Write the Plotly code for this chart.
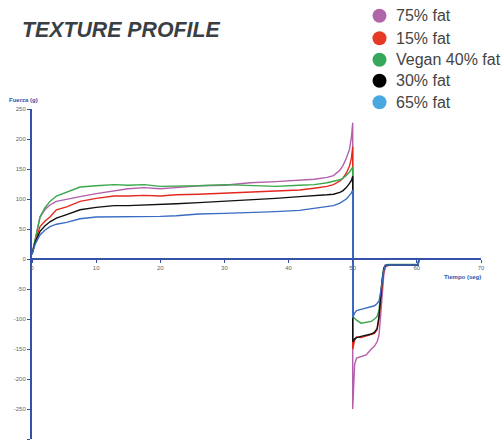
import plotly.graph_objects as go

# ---------------- data ----------------
series_names = ["75% fat", "15% fat", "Vegan 40% fat", "30% fat", "65% fat"]
line_colors = ["#b25fac", "#e4281f", "#38a84a", "#111111", "#3a6cc2"]
legend_colors = ["#b065a8", "#e63a26", "#35a85b", "#000000", "#4aa8e0"]

# compression phase (seconds)
t_press = [0, 0.5, 1.25, 2, 2.8, 3.8, 5.4, 7.5, 10, 12.8, 15, 17.5, 20, 22.5,
           26, 30, 34, 38, 41.7, 44, 46, 47, 48, 48.5, 49, 49.5, 49.8, 50]
f_press_75 = [8, 35, 70, 82, 90, 96, 100, 104, 109, 114, 117, 119, 117, 119,
              122, 123, 127, 129, 131, 133, 136, 139, 148, 156, 168, 183, 203, 227]
f_press_15 = [8, 30, 54, 63, 70, 82, 87, 96, 101, 105, 105, 106, 105, 107,
              108, 110, 111, 113, 115, 118, 121, 124, 130, 135, 143, 155, 168, 187]
f_press_v40 = [8, 35, 70, 85, 96, 105, 112, 120, 122, 124, 123, 124, 121, 121,
               122, 124, 123, 121, 123, 124, 127, 129, 132, 135, 139, 145, 149, 153]
f_press_30 = [8, 28, 46, 55, 62, 68, 74, 82, 86, 89, 89, 90, 90, 92,
              94, 96, 98, 101, 104, 105, 107, 108, 111, 114, 119, 126, 131, 138]
f_press_65 = [8, 25, 40, 48, 54, 58, 61, 67, 70, 70, 70, 70, 71, 72,
              75, 76, 77, 79, 81, 84, 87, 89, 93, 96, 100, 106, 110, 115]

# withdrawal phase (seconds)
t_pull = [50, 50.3, 50.6, 51.3, 52.1, 52.9, 53.4, 53.8, 54.1, 54.35, 54.6,
          54.85, 55.1, 55.5, 56, 57, 58, 59, 60.2, 60.3]
f_pull_75 = [-250, -175, -165, -163, -160, -150, -145, -138, -127, -95, -60,
             -25, -13, -11, -10, -10, -10, -10, -10, -1]
f_pull_15 = [-150, -135, -130, -131, -128, -126, -124, -118, -100, -70, -45,
             -20, -13, -10, -10, -10, -10, -10, -10, -1]
f_pull_v40 = [-96, -99, -102, -107, -106, -104, -100, -96, -85, -55, -32,
              -15, -10, -9, -9, -9, -9, -9, -9, -1]
f_pull_30 = [-138, -133, -131, -129, -127, -125, -122, -116, -95, -60, -35,
             -15, -11, -10, -10, -10, -10, -10, -10, -1]
f_pull_65 = [-98, -90, -86, -84, -82, -80, -78, -74, -70, -55, -33,
             -18, -10, -10, -10, -10, -10, -10, -10, -1]

press = [f_press_75, f_press_15, f_press_v40, f_press_30, f_press_65]
pull = [f_pull_75, f_pull_15, f_pull_v40, f_pull_30, f_pull_65]

x_ticks = [0, 10, 20, 30, 40, 50, 60, 70]
y_ticks = [-300, -250, -200, -150, -100, -50, 0, 50, 100, 150, 200, 250]

AXIS = "#3352a8"
FONT = "Arial, Liberation Sans, sans-serif"

W, H = 504, 442
ML, MR, MT, MB = 32, 23, 109, 3
PW, PH = W - ML - MR, H - MT - MB


def px(x):
    return (x - ML) / PW


def py(y):
    return (H - MB - y) / PH


fig = go.Figure()
for name, col, fp, fq in zip(series_names, line_colors, press, pull):
    fig.add_trace(go.Scatter(
        x=t_press + t_pull, y=fp + fq, mode="lines", name=name,
        line=dict(color=col, width=1.4), showlegend=False, hoverinfo="skip"))

# legend drawn as circles + text in the top-right corner
leg_y = [15.7, 38.3, 59.8, 80.8, 102.3]
shapes, annotations = [], []
for name, col, ly in zip(series_names, legend_colors, leg_y):
    shapes.append(dict(type="circle", xref="paper", yref="paper",
                       x0=px(372.5), x1=px(386.5), y0=py(ly + 7), y1=py(ly - 7),
                       fillcolor=col, line=dict(width=0)))
    annotations.append(dict(text=name, xref="paper", yref="paper",
                            x=px(394), y=py(ly), xanchor="left", yanchor="middle",
                            showarrow=False,
                            font=dict(size=16, color="#444444", family=FONT)))

annotations += [
    dict(text="<b><i>TEXTURE PROFILE</i></b>", xref="paper", yref="paper",
         x=px(20), y=py(30), xanchor="left", yanchor="middle", showarrow=False,
         font=dict(size=21.3, color="#3a3f44", family=FONT)),
    dict(text="<b>Fuerza (g)</b>", xref="paper", yref="paper",
         x=px(7), y=py(100), xanchor="left", yanchor="middle", showarrow=False,
         font=dict(size=6, color=AXIS, family=FONT)),
    dict(text="<b>Tiempo (seg)</b>", xref="paper", yref="paper",
         x=px(483), y=py(277), xanchor="right", yanchor="middle", showarrow=False,
         font=dict(size=6, color=AXIS, family=FONT)),
]

fig.update_layout(
    width=W, height=H,
    margin=dict(l=ML, r=MR, t=MT, b=MB, autoexpand=False),
    paper_bgcolor="white", plot_bgcolor="white",
    font=dict(family=FONT, color="#555555"),
    showlegend=False,
    xaxis=dict(
        range=[0, 70], tickvals=x_ticks, ticktext=[str(v) for v in x_ticks],
        anchor="free", position=300 / 550,
        showline=True, linecolor=AXIS, linewidth=1.5,
        ticks="outside", ticklen=3, tickcolor=AXIS, tickwidth=1,
        tickfont=dict(size=6, color="#666666"),
        showgrid=False, zeroline=False,
    ),
    yaxis=dict(
        range=[-300, 250], tickvals=y_ticks, ticktext=[str(v) for v in y_ticks],
        showline=True, linecolor=AXIS, linewidth=2,
        ticks="outside", ticklen=3, tickcolor=AXIS, tickwidth=1,
        tickfont=dict(size=6, color="#666666"),
        showgrid=False, zeroline=False,
    ),
    shapes=shapes,
    annotations=annotations,
)

fig.write_html("out.html", config={"displayModeBar": False},
               post_script="document.body.style.margin='0';document.body.style.padding='0';")
